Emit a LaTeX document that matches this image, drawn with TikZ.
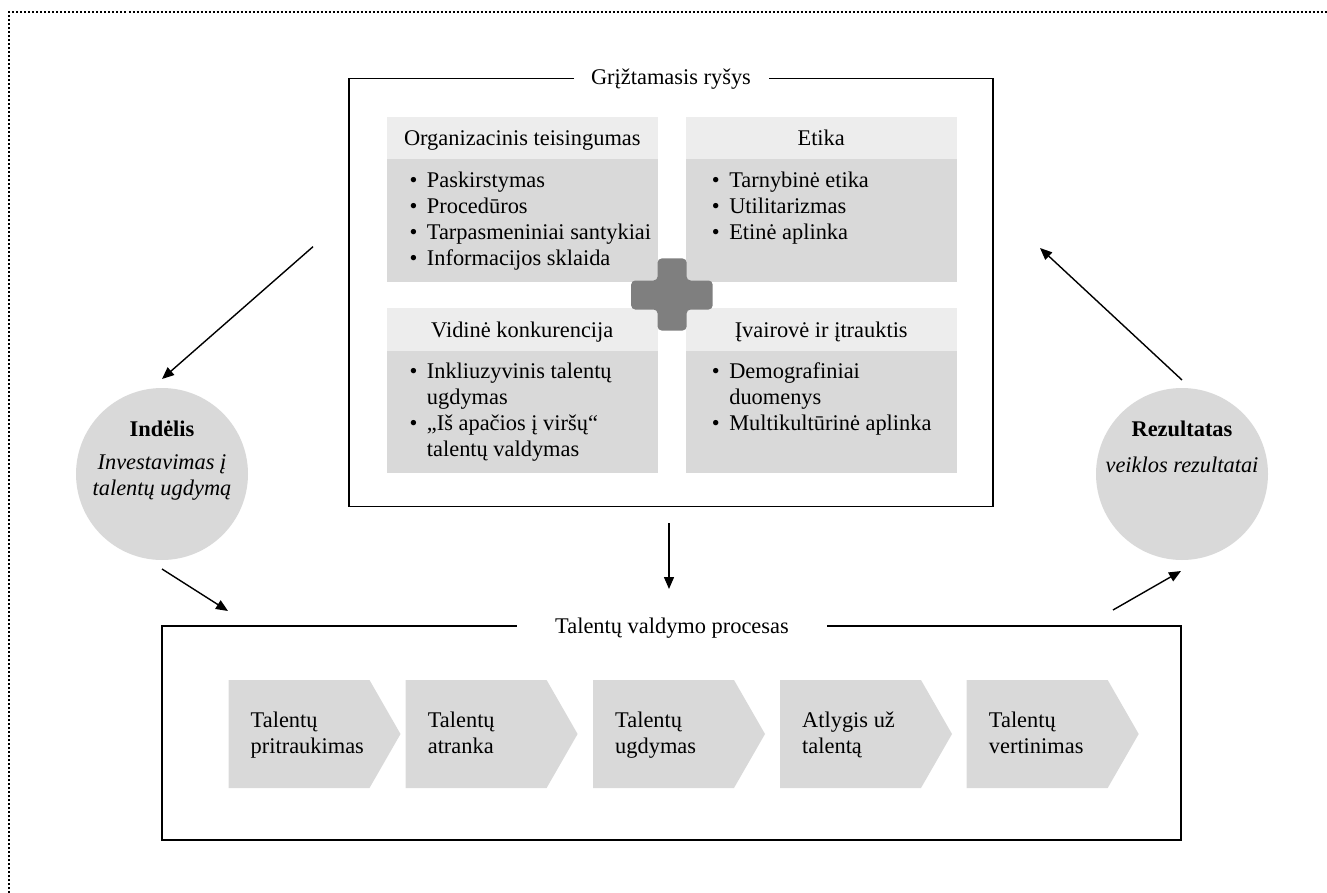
\documentclass[tikz,border=0pt]{standalone}
\usepackage{fontspec}
\setmainfont{Liberation Serif}
\usetikzlibrary{arrows.meta}

\definecolor{panelhead}{HTML}{EDEDED}
\definecolor{panelbody}{HTML}{D9D9D9}
\definecolor{plusgray}{HTML}{7F7F7F}

\newcommand{\fs}{\fontsize{22.4}{26}\selectfont}
\newcommand{\bul}{\makebox[17.4pt][l]{\textbullet}}
\newcommand{\ind}{\hspace*{17.4pt}}

\begin{document}
\begin{tikzpicture}[x=1pt,y=-1pt,
  frame/.style={line width=1.6pt},
  txt/.style={inner sep=0pt, font=\fs},
  arr/.style={line width=1.4pt, -{Triangle[length=12pt,width=10pt]}},
  chevron/.style={fill=panelbody, draw=none}
]
\useasboundingbox (0,0) rectangle (1327,893);

% dotted outer frame (top and left sides)
\draw[line width=2pt, dash pattern=on 2pt off 2pt] (9,893) -- (9,12.5) -- (1327,12.5);

% ---------- feedback box ----------
\node[txt, anchor=base] (fbT) at (671,85) {Grįžtamasis ryšys};
\draw[frame] (574,78.5) -- (349,78.5) -- (349,506.5) -- (993,506.5) -- (993,78.5) -- (769,78.5);

% panels: headers and bodies
\fill[panelhead] (387,116.7) rectangle (657.6,159);
\fill[panelbody] (387,159) rectangle (657.6,281.7);
\fill[panelhead] (685.8,116.7) rectangle (956.5,159);
\fill[panelbody] (685.8,159) rectangle (956.5,281.7);
\fill[panelhead] (387,308.3) rectangle (657.6,350.7);
\fill[panelbody] (387,350.7) rectangle (657.6,473.3);
\fill[panelhead] (685.8,308.3) rectangle (956.5,350.7);
\fill[panelbody] (685.8,350.7) rectangle (956.5,473.3);

\node[txt, anchor=base] (tlH) at (522.3,145.5) {Organizacinis teisingumas};
\node[txt, anchor=base] (trH) at (821.2,145.5) {Etika};
\node[txt, anchor=base] (blH) at (522.3,337) {Vidinė konkurencija};
\node[txt, anchor=base] (brH) at (821.2,337) {Įvairovė ir įtrauktis};

\node[txt, anchor=base west] (tlB) at (409.3,187.5) {\parbox[t]{250pt}{\fs
  \bul Paskirstymas\\
  \bul Procedūros\\
  \bul Tarpasmeniniai santykiai\\
  \bul Informacijos sklaida}};
\node[txt, anchor=base west] (trB) at (711.7,187.5) {\parbox[t]{245pt}{\fs
  \bul Tarnybinė etika\\
  \bul Utilitarizmas\\
  \bul Etinė aplinka}};
\node[txt, anchor=base west] (blB) at (409.3,378.5) {\parbox[t]{250pt}{\fs
  \bul Inkliuzyvinis talentų\\
  \ind ugdymas\\
  \bul „Iš apačios į viršų“\\
  \ind talentų valdymas}};
\node[txt, anchor=base west] (brB) at (711.7,378.5) {\parbox[t]{245pt}{\fs
  \bul Demografiniai\\
  \ind duomenys\\
  \bul Multikultūrinė aplinka}};

% plus sign in the middle
\fill[plusgray, rounded corners=4pt]
  (657.6,258.5) -- (686.6,258.5) -- (686.6,280.5) -- (712.6,280.5) -- (712.6,309.5) -- (686.6,309.5)
  -- (686.6,330.5) -- (657.6,330.5) -- (657.6,309.5) -- (631.2,309.5) -- (631.2,280.5) -- (657.6,280.5) -- cycle;

% ---------- input / output circles ----------
\node[circle, fill=panelbody, minimum size=172pt, inner sep=0pt] (inC) at (162,474) {};
\node[txt, anchor=base, font=\fs\bfseries] (inT) at (162,436) {Indėlis};
\node[txt, anchor=base, font=\fs\itshape] (inL1) at (162,469) {Investavimas į};
\node[txt, anchor=base, font=\fs\itshape] (inL2) at (162,495) {talentų ugdymą};

\node[circle, fill=panelbody, minimum size=172pt, inner sep=0pt] (outC) at (1182,474) {};
\node[txt, anchor=base, font=\fs\bfseries] (outT) at (1182,436) {Rezultatas};
\node[txt, anchor=base, font=\fs\itshape] (outL) at (1182,472) {veiklos rezultatai};

% ---------- process box ----------
\node[txt, anchor=base] (prT) at (672,633) {Talentų valdymo procesas};
\draw[frame] (516.6,626) -- (162,626) -- (162,840) -- (1181,840) -- (1181,626) -- (826.7,626);

\foreach \L/\la/\lb [count=\i] in {228.5/Talentų/pritraukimas, 405.6/Talentų/atranka,
    593/Talentų/ugdymas, 780/Atlygis už/talentą, 966.7/Talentų/vertinimas}{
  \fill[chevron] (\L,680) -- (\L+141,680) -- (\L+172,734) -- (\L+141,788) -- (\L,788) -- cycle;
  \node[txt, anchor=base west] (ch\i a) at (\L+22,727) {\la};
  \node[txt, anchor=base west] (ch\i b) at (\L+22,753) {\lb};
}

% ---------- connectors ----------
\coordinate (a1s) at (313,246.7);
\coordinate (a1e) at (162,379);
\coordinate (a2s) at (162,569);
\coordinate (a2e) at (228,611);
\coordinate (a3s) at (1113,610);
\coordinate (a3e) at (1181,571);
\coordinate (a4s) at (1182,380);
\coordinate (a4e) at (1040,248);
\coordinate (a5s) at (669,523);
\coordinate (a5e) at (669,589);
\draw[arr] (a1s) -- (a1e);
\draw[arr] (a2s) -- (a2e);
\draw[arr] (a3s) -- (a3e);
\draw[arr] (a4s) -- (a4e);
\draw[arr] (a5s) -- (a5e);
\end{tikzpicture}
\end{document}
